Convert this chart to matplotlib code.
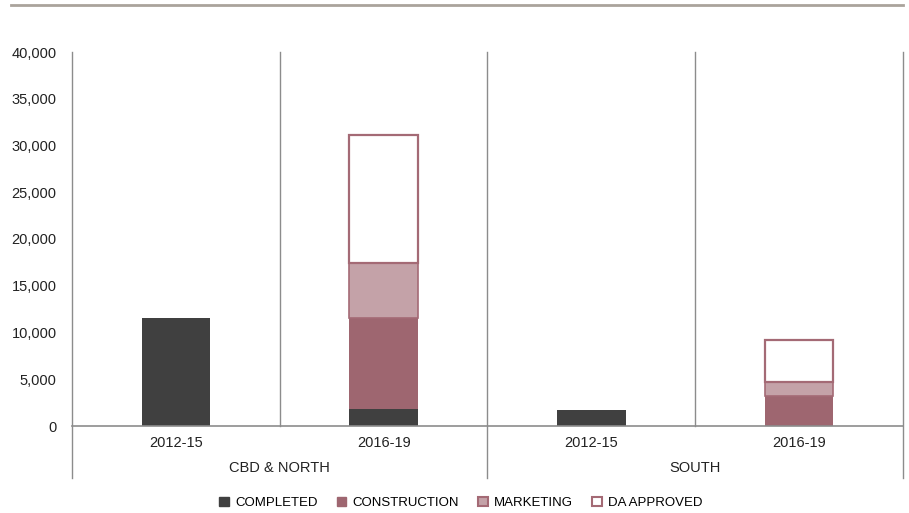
import matplotlib.pyplot as plt
import matplotlib.patches as mpatches
import numpy as np

plt.rcParams['font.family'] = ['Liberation Sans', 'DejaVu Sans']

# data
groups = ['CBD & NORTH', 'SOUTH']
periods = ['2012-15', '2016-19', '2012-15', '2016-19']
completed = [11600, 1800, 1700, 50]
construction = [0, 9800, 0, 3150]
marketing = [0, 5800, 0, 1500]
da_approved = [0, 13750, 0, 4500]
series_names = ['COMPLETED', 'CONSTRUCTION', 'MARKETING', 'DA APPROVED']

c_completed = '#404040'
c_construction = '#9E6670'
c_marketing = '#C4A2A8'
c_edge = '#A46A75'
c_line = '#8C8C8C'

fig = plt.figure(figsize=(9.09, 5.13), dpi=100)
ax = fig.add_axes([72 / 909, 87 / 513, 831 / 909, 374 / 513])

x = np.arange(len(periods))
w = 0.33
b1 = np.array(completed)
b2 = b1 + np.array(construction)
b3 = b2 + np.array(marketing)


def stack(vals, bottom, **kw):
    # 0 の区間は描かない（枠線が残るため）
    vals = np.array(vals)
    m = vals > 0
    ax.bar(x[m], vals[m], w, bottom=np.array(bottom)[m], zorder=3, **kw)


stack(completed, np.zeros(4), color=c_completed, linewidth=0)
stack(construction, b1, color=c_construction, linewidth=0)
stack(marketing, b2, color=c_marketing, edgecolor=c_edge, linewidth=1.2)
stack(da_approved, b3, color='white', edgecolor=c_edge, linewidth=1.6)

ax.set_xlim(-0.5, 3.5)
ax.set_ylim(0, 40000)
ax.set_yticks(np.arange(0, 40001, 5000))
ax.set_yticklabels([f'{v:,}' for v in range(0, 40001, 5000)], fontsize=10.5, color='#222222')
ax.tick_params(axis='y', length=0, pad=11)
ax.set_xticks([])

for s in ['top', 'right', 'bottom', 'left']:
    ax.spines[s].set_visible(False)

# axis lines / dividers
ext = -52 / 374
ax.axhline(0, color=c_line, lw=1.2, zorder=4, clip_on=False)
trans = ax.get_xaxis_transform()
for xv in [-0.5, 1.5, 3.5]:
    ax.plot([xv, xv], [ext, 1], color=c_line, lw=1, transform=trans, clip_on=False)
for xv in [0.5, 2.5]:
    ax.plot([xv, xv], [0, 1], color=c_line, lw=1, transform=trans, clip_on=False)

# category labels
for xi, p in zip(x, periods):
    ax.text(xi, -17 / 374, p, transform=trans, ha='center', va='center', fontsize=10.5, color='#222222')
for gi, g in enumerate(groups):
    ax.text(gi * 2 + 0.5, -42 / 374, g, transform=trans, ha='center', va='center', fontsize=10.5, color='#222222')

# top rule
fig.add_artist(plt.Line2D([11 / 909, 903 / 909], [1 - 5 / 513, 1 - 5 / 513],
                          color='#AAA39C', lw=2, transform=fig.transFigure))

handles = [
    mpatches.Patch(facecolor=c_completed, edgecolor=c_completed, label=series_names[0]),
    mpatches.Patch(facecolor=c_construction, edgecolor=c_construction, label=series_names[1]),
    mpatches.Patch(facecolor=c_marketing, edgecolor=c_edge, linewidth=1.5, label=series_names[2]),
    mpatches.Patch(facecolor='white', edgecolor=c_edge, linewidth=1.5, label=series_names[3]),
]
fig.legend(handles=handles, loc='center', bbox_to_anchor=(461 / 909, 1 - 503 / 513), ncol=4,
           frameon=False, fontsize=9.5, handlelength=0.7, handleheight=0.7,
           handletextpad=0.5, columnspacing=1.45)

fig.savefig('out.png', dpi=100)
